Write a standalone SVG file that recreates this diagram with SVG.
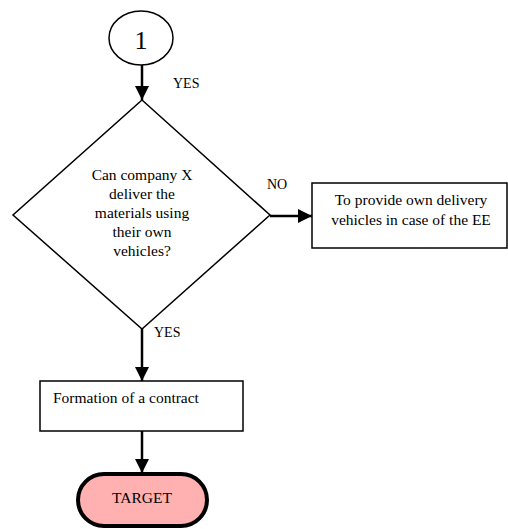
<svg xmlns="http://www.w3.org/2000/svg" width="508" height="529" viewBox="0 0 508 529">
<defs>
<marker id="arr" markerWidth="14" markerHeight="14" viewBox="0 0 14 14" refX="14" refY="7" orient="auto" markerUnits="userSpaceOnUse">
<path d="M0,0 L14,7 L0,14 Z" fill="#000"/>
</marker>
</defs>
<style>
text{font-family:"Liberation Serif","Times New Roman",serif;font-size:15.5px;fill:#000}
.lbl{font-size:14px}
.c{text-anchor:middle}
.shape{fill:#fff;stroke:#000;stroke-width:1.5}
.conn{stroke:#000;stroke-width:2.5;fill:none}
</style>
<rect width="508" height="529" fill="#fff"/>
<g id="connectors">
<line class="conn" x1="142" y1="64" x2="142" y2="100" marker-end="url(#arr)"/>
<line class="conn" x1="270" y1="216" x2="312" y2="216" marker-end="url(#arr)"/>
<line class="conn" x1="142" y1="328" x2="142" y2="381" marker-end="url(#arr)"/>
<line class="conn" x1="142" y1="431" x2="142" y2="473" marker-end="url(#arr)"/>
<text class="lbl" x="173" y="88">YES</text>
<text class="lbl" x="267" y="189">NO</text>
<text class="lbl" x="154" y="337">YES</text>
</g>
<g id="node-start">
<ellipse class="shape" cx="141" cy="38" rx="32" ry="27"/>
<text class="c" x="141" y="49" style="font-size:26px">1</text>
</g>
<g id="node-decision">
<polygon class="shape" points="142,100 270,215 142,329 13,215"/>
<text class="c" x="142" y="180">Can company X</text>
<text class="c" x="142" y="199">deliver the</text>
<text class="c" x="142" y="218">materials using</text>
<text class="c" x="142" y="237">their own</text>
<text class="c" x="142" y="256">vehicles?</text>
</g>
<g id="node-own-delivery">
<rect class="shape" x="312" y="183" width="195" height="65"/>
<text class="c" x="411" y="205">To provide own delivery</text>
<text class="c" x="411" y="225">vehicles in case of the EE</text>
</g>
<g id="node-contract">
<rect class="shape" x="40" y="381" width="203" height="50"/>
<text x="53" y="403">Formation of a contract</text>
</g>
<g id="node-target">
<rect x="78" y="474" width="129" height="52" rx="26" ry="26" fill="#ffb0b0" stroke="#000" stroke-width="4"/>
<text class="c" x="142" y="503">TARGET</text>
</g>
</svg>
